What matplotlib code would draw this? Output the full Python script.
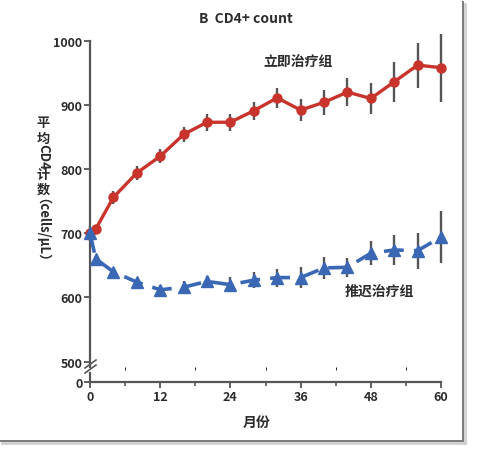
import matplotlib
matplotlib.use("Agg")
import matplotlib.pyplot as plt
from matplotlib.lines import Line2D

plt.rcParams['font.family'] = ['Noto Sans CJK SC', 'DejaVu Sans']

# data (months, mean CD4 count, error half-width)
months = [0, 1, 4, 8, 12, 16, 20, 24, 28, 32, 36, 40, 44, 48, 52, 56, 60]
early = [700, 707, 756, 794, 820, 854, 873, 873, 891, 911, 892, 904, 920, 910, 936, 962, 958]
early_err = [4, 5, 10, 11, 11, 12, 13, 13, 14, 16, 17, 19, 22, 24, 31, 35, 53]
deferred = [700, 660, 640, 624, 612, 616, 625, 620, 627, 631, 631, 646, 647, 669, 674, 673, 694]
deferred_err = [12, 5, 6, 7, 7, 10, 9, 12, 12, 14, 16, 17, 15, 19, 24, 28, 40]

title = "B  CD4+ count"
xlabel = "月份"
# vertical y label pieces: (text, rotation)
ylabel_parts = [("平", 0), ("均", 0), ("CD4", 270), ("计", 0), ("数", 0), ("（cells/μL）", 270)]
early_name = "立即治疗组"
deferred_name = "推迟治疗组"
xticks = [0, 12, 24, 36, 48, 60]
yticks = [500, 600, 700, 800, 900, 1000]

RED = "#c8332b"
BLUE = "#3b68b4"
GREY = "#555555"
TXT = "#2b2b2b"

W, H = 480, 460
fig = plt.figure(figsize=(W / 100, H / 100), dpi=100)

ax = fig.add_axes([90 / W, 0.2, 351 / W, 0.7093])
axb = fig.add_axes([90 / W, 1 - 382.5 / H, 351 / W, 8.5 / H], sharex=ax)

ax.errorbar(months, early, yerr=early_err, fmt="none", ecolor=GREY, elinewidth=1.7, capsize=0, zorder=2, clip_on=False)
ax.errorbar(months, deferred, yerr=deferred_err, fmt="none", ecolor=GREY, elinewidth=1.7, capsize=0, zorder=2, clip_on=False)
ax.plot(months, early, color=RED, lw=2.4, marker="o", ms=6.5, zorder=3, clip_on=False)
ax.plot(months, deferred, color=BLUE, lw=2.6, ls=(0, (5.5, 2.8)), marker="^", ms=8, zorder=3, clip_on=False)

ax.set_xlim(0, 60)
ax.set_ylim(491.7, 1000)
ax.set_yticks(yticks)
for a in (ax, axb):
    for s in ("top", "right"):
        a.spines[s].set_visible(False)
    a.spines["left"].set_color(GREY)
    a.spines["left"].set_linewidth(1.6)
    a.tick_params(axis="y", length=4, width=1.3, color=GREY, labelsize=9, labelcolor=TXT, pad=1.5)
    for lab in a.get_yticklabels():
        lab.set_fontweight("bold")
ax.spines["bottom"].set_visible(False)
ax.tick_params(axis="x", bottom=False, labelbottom=False)

axb.set_ylim(0, 1)
axb.set_yticks([0])
axb.set_yticklabels(["0"], fontweight="bold")
axb.spines["bottom"].set_color(GREY)
axb.spines["bottom"].set_linewidth(1.6)
axb.set_xticks(xticks)
axb.set_xticklabels([str(v) for v in xticks], fontweight="bold")
axb.set_xticks([6, 18, 30, 42, 54], minor=True)
axb.tick_params(axis="x", which="major", length=4, width=1.3, color=GREY, labelsize=9, labelcolor=TXT, pad=2)
axb.tick_params(axis="x", which="minor", length=3, width=1.2, color=GREY)

# axis break marks
for dy in (0, 5):
    fig.add_artist(Line2D([85 / W, 96 / W], [1 - (374 - dy) / H, 1 - (366 - dy) / H], color=GREY, lw=1.2))

ax.text(35.6, 968, early_name, ha="center", va="center", fontsize=10, fontweight="bold", color=TXT)
ax.text(49.4, 610, deferred_name, ha="center", va="center", fontsize=10, fontweight="bold", color=TXT)

fig.text(246 / W, 1 - 19 / H, title, ha="center", va="center", fontsize=10, fontweight="bold", color=TXT)
fig.text(257 / W, 1 - 423 / H, xlabel, ha="center", va="center", fontsize=10, fontweight="bold", color=TXT)

# stacked vertical y label (centres in px from top, x nudges in px)
label_y = [123, 139, 157, 175, 190, 237]
label_dx = [0, 0, 0, 0, 0, -8]
for (s, rot), yc, dx in zip(ylabel_parts, label_y, label_dx):
    fig.text((43 + dx) / W, 1 - yc / H, s, rotation=rot, ha="center", va="center",
             fontsize=9.5, fontweight="bold", color=TXT)

# screenshot frame with shadow
fig.add_artist(Line2D([465 / W, 465 / W], [1 - 5 / H, 1 - 444 / H], color="#d0d0d0", lw=2))
fig.add_artist(Line2D([2 / W, 465 / W], [1 - 444 / H, 1 - 444 / H], color="#d0d0d0", lw=2))
fig.add_artist(Line2D([463 / W, 463 / W], [1 - 3 / H, 1 - 442 / H], color="#7a7a7a", lw=1.4))
fig.add_artist(Line2D([0, 463 / W], [1 - 442 / H, 1 - 442 / H], color="#7a7a7a", lw=1.4))

fig.savefig("out.png", dpi=100)
